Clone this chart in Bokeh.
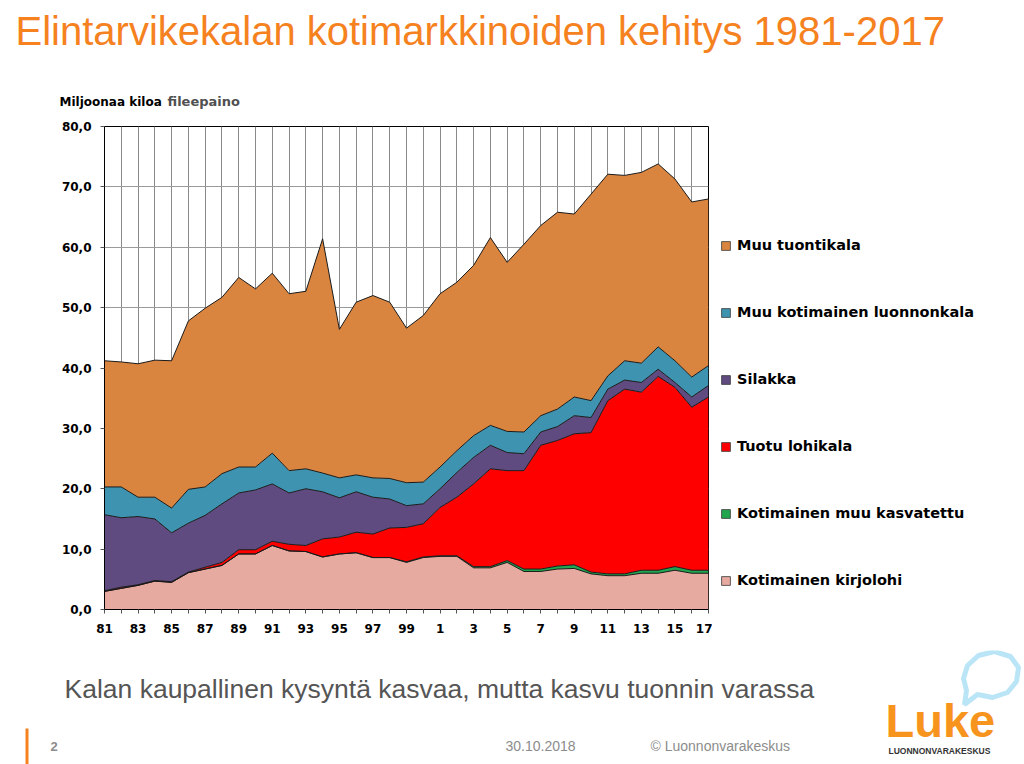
import numpy as np
from bokeh.plotting import figure
from bokeh.layouts import column, row
from bokeh.models import (ColumnDataSource, FixedTicker, Legend, LegendItem, Label,
                          BoxAnnotation, PolyAnnotation, Range1d)
from bokeh.embed import file_html
from bokeh.resources import INLINE

# ---------------- data (million kg, fillet weight) ----------------
years = list(range(1981, 2018))
kirjolohi = [3.0, 3.5, 4.0, 4.7, 4.5, 6.1, 6.7, 7.3, 9.2, 9.2,
             10.6, 9.7, 9.6, 8.7, 9.2, 9.4, 8.6, 8.6, 7.8, 8.6,
             8.8, 8.8, 6.9, 6.9, 7.8, 6.3, 6.3, 6.7, 6.8, 5.9,
             5.6, 5.6, 6.0, 6.0, 6.5, 6.0, 6.0]
muu_kasvatettu = [0.0, 0.0, 0.0, 0.0, 0.0, 0.0, 0.0, 0.0, 0.0, 0.0,
                  0.0, 0.0, 0.0, 0.0, 0.0, 0.0, 0.0, 0.0, 0.1, 0.1,
                  0.1, 0.1, 0.2, 0.2, 0.3, 0.4, 0.4, 0.5, 0.6, 0.3,
                  0.3, 0.3, 0.5, 0.5, 0.6, 0.5, 0.5]
tuotu_lohikala = [0.1, 0.2, 0.1, 0.1, 0.1, 0.1, 0.3, 0.5, 0.7, 0.7,
                  0.7, 1.1, 1.0, 3.0, 2.8, 3.4, 3.9, 4.9, 5.7, 5.5,
                  8.0, 9.7, 13.7, 16.2, 14.9, 16.3, 20.5, 20.8, 21.7, 23.1,
                  28.7, 30.6, 29.5, 32.1, 29.7, 27.0, 28.7]
silakka = [12.6, 11.5, 11.3, 10.2, 8.1, 8.1, 8.6, 9.7, 9.4, 9.9,
           9.5, 8.5, 9.4, 7.8, 6.5, 6.7, 6.1, 4.8, 3.6, 3.3,
           3.1, 4.1, 4.4, 3.9, 3.0, 2.8, 2.2, 2.3, 3.0, 2.5,
           1.9, 1.5, 1.6, 1.2, 0.8, 1.7, 1.9]
luonnonkala = [4.6, 5.1, 3.2, 3.6, 4.1, 5.6, 4.7, 5.0, 4.3, 3.8,
               5.1, 3.7, 3.3, 3.1, 3.3, 2.8, 3.2, 3.4, 3.8, 3.6,
               3.6, 3.6, 3.6, 3.3, 3.5, 3.6, 2.7, 2.9, 3.1, 2.8,
               2.2, 3.2, 3.2, 3.7, 3.6, 3.3, 3.3]
tuontikala = [20.9, 20.7, 22.1, 22.7, 24.4, 27.9, 29.6, 29.2, 31.4, 29.5,
              29.8, 29.3, 29.4, 38.8, 24.6, 28.6, 30.2, 29.2, 25.6, 27.6,
              28.7, 27.9, 28.2, 31.1, 28.0, 31.1, 31.5, 32.6, 30.3, 34.2,
              33.4, 30.7, 31.6, 30.3, 30.1, 29.0, 27.6]

series_keys = ["kirjolohi", "muu_kasvatettu", "tuotu_lohikala", "silakka",
               "luonnonkala", "tuontikala"]
series_names = ["Kotimainen kirjolohi", "Kotimainen muu kasvatettu", "Tuotu lohikala",
                "Silakka", "Muu kotimainen luonnonkala", "Muu tuontikala"]
series_colors = ["#E6AAA0", "#1FA64F", "#FF0000", "#5F4B80", "#3E94B0", "#D98540"]

x_tick_labels = ["81", "", "83", "", "85", "", "87", "", "89", "", "91", "", "93", "",
                 "95", "", "97", "", "99", "", "1", "", "3", "", "5", "", "7", "",
                 "9", "", "11", "", "13", "", "15", "", "17"]
y_ticks = [0, 10, 20, 30, 40, 50, 60, 70, 80]
y_tick_labels = ["0,0", "10,0", "20,0", "30,0", "40,0", "50,0", "60,0", "70,0", "80,0"]

# ---------------- page geometry ----------------
W = 1024
HEAD_H = 116          # header strip: page y 0..116
MAIN_H = 534          # chart strip: page y 116..650
FOOT_H = 764 - HEAD_H - MAIN_H
FL, FR, FT, FB = 104, 708, 126, 609   # chart frame edges in page pixels
CHART_W = FR + 4      # chart figure width; legend strip fills the rest
BASELINE_SHIFT = 0.36  # Label "alphabetic" lands this many font sizes lower


def text_strip(x0, y0, w, h):
    f = figure(width=w, height=h, x_range=Range1d(x0, x0 + w), y_range=Range1d(y0 + h, y0),
               output_backend="svg", toolbar_location=None, title=None,
               x_axis_location=None, y_axis_location=None, frame_align=False,
               min_border=0, min_border_left=0, min_border_right=0,
               min_border_top=0, min_border_bottom=0)
    f.grid.visible = False
    f.outline_line_color = None
    f.background_fill_color = "white"
    f.border_fill_color = "white"
    return f


def add_text(f, txt, px, py, size, color, style="normal", font="Liberation Sans", align="left"):
    f.add_layout(Label(x=px, y=py - BASELINE_SHIFT * size, text=txt, text_font=font,
                       text_font_size=f"{size}px", text_color=color, text_font_style=style,
                       text_align=align, text_baseline="alphabetic"))


# ---------------- header ----------------
head = text_strip(0, 0, W, HEAD_H)
add_text(head, "Elintarvikekalan kotimarkkinoiden kehitys 1981-2017", 15, 45, 40, "#F5821F")
add_text(head, "Miljoonaa kiloa", 59, 106, 12, "black", "bold", "DejaVu Sans")
add_text(head, "fileepaino", 167, 106, 13, "#505050", "bold", "DejaVu Sans")

# ---------------- chart ----------------
src = ColumnDataSource(dict(year=years, kirjolohi=kirjolohi, muu_kasvatettu=muu_kasvatettu,
                            tuotu_lohikala=tuotu_lohikala, silakka=silakka,
                            luonnonkala=luonnonkala, tuontikala=tuontikala))

p = figure(width=CHART_W, height=MAIN_H, x_range=(1981, 2017), y_range=(0, 80),
           output_backend="svg", toolbar_location=None, title=None, frame_align=False,
           min_border_left=FL, min_border_right=CHART_W - FR, min_border_top=FT - HEAD_H,
           min_border_bottom=HEAD_H + MAIN_H - FB)
p.background_fill_color = "white"
p.border_fill_color = "white"
p.outline_line_color = "black"
p.outline_line_width = 1

areas = p.varea_stack(stackers=series_keys, x="year", color=series_colors, source=src)
p.vline_stack(stackers=series_keys, x="year", color="#1a1a1a", line_width=1, source=src)

p.xgrid.ticker = FixedTicker(ticks=years)
p.xgrid.grid_line_color = "#8a8a8a"
p.xgrid.grid_line_width = 1
p.ygrid.ticker = FixedTicker(ticks=y_ticks)
p.ygrid.grid_line_color = "#9a9a9a"
p.ygrid.grid_line_width = 1

p.xaxis.ticker = FixedTicker(ticks=years)
p.xaxis.major_label_overrides = {yr: lbl for yr, lbl in zip(years, x_tick_labels)}
p.yaxis.ticker = FixedTicker(ticks=y_ticks)
p.yaxis.major_label_overrides = {t: lbl for t, lbl in zip(y_ticks, y_tick_labels)}
for ax in (p.xaxis, p.yaxis):
    ax.axis_line_color = "black"
    ax.axis_line_width = 1
    ax.major_tick_line_color = "#555555"
    ax.major_tick_out = 4
    ax.major_tick_in = 0
    ax.minor_tick_line_color = None
    ax.major_label_text_font = "DejaVu Sans"
    ax.major_label_text_font_style = "bold"
    ax.major_label_text_font_size = "12px"
    ax.major_label_text_color = "black"
p.xaxis.major_label_standoff = 10
p.yaxis.major_label_standoff = 9

# ---------------- legend strip (right of the chart) ----------------
# the stacked series are drawn here too, but outside this strip's view: they only
# supply the legend swatches (filled squares with a thin dark outline)
leg = text_strip(CHART_W, HEAD_H, W - CHART_W, MAIN_H)
swatches = leg.vbar_stack(stackers=series_keys, x="year", width=0.5, fill_color=series_colors,
                          line_color="#3a3a3a", line_width=0.8, source=src)
items = [LegendItem(label=n, renderers=[r]) for n, r in zip(series_names, swatches)][::-1]
legend = Legend(items=items, location=(720 - CHART_W, HEAD_H + MAIN_H - 590),
                padding=0, margin=0, spacing=47,
                glyph_width=11, glyph_height=11, label_height=20, label_standoff=6,
                label_text_font="DejaVu Sans", label_text_font_style="bold",
                label_text_font_size="14.5px", label_text_color="black",
                border_line_alpha=0, background_fill_alpha=0)
leg.add_layout(legend)

# ---------------- footer ----------------
foot = text_strip(0, HEAD_H + MAIN_H, W, FOOT_H)
add_text(foot, "Kalan kaupallinen kysyntä kasvaa, mutta kasvu tuonnin varassa", 64, 698, 26.5, "#555555")
add_text(foot, "2", 50, 751, 13, "#8C8C8C", "bold")
add_text(foot, "30.10.2018", 505, 751, 14, "#8C8C8C")
add_text(foot, "© Luonnonvarakeskus", 650, 751, 14, "#8C8C8C")
add_text(foot, "Luke", 885, 737, 47, "#F7941D", "bold", "Liberation Sans")
add_text(foot, "LUONNONVARAKESKUS", 888, 754, 8.5, "#333333", "bold", "Liberation Sans")
foot.add_layout(BoxAnnotation(left=25, right=28, top=728, bottom=764,
                              fill_color="#F5821F", fill_alpha=1, line_alpha=0))
bx = [964, 977, 992, 1007, 1016, 1018, 1010, 994, 978, 967, 963, 966]
by = [704, 694, 697, 692, 681, 667, 656, 651, 655, 665, 678, 690]
foot.add_layout(PolyAnnotation(xs=bx, ys=by, fill_alpha=0, line_color="#1CAAE2", line_width=5))

page = column(head, row(p, leg, spacing=0), foot, spacing=0)
open("out.html", "w").write(file_html(page, INLINE))
